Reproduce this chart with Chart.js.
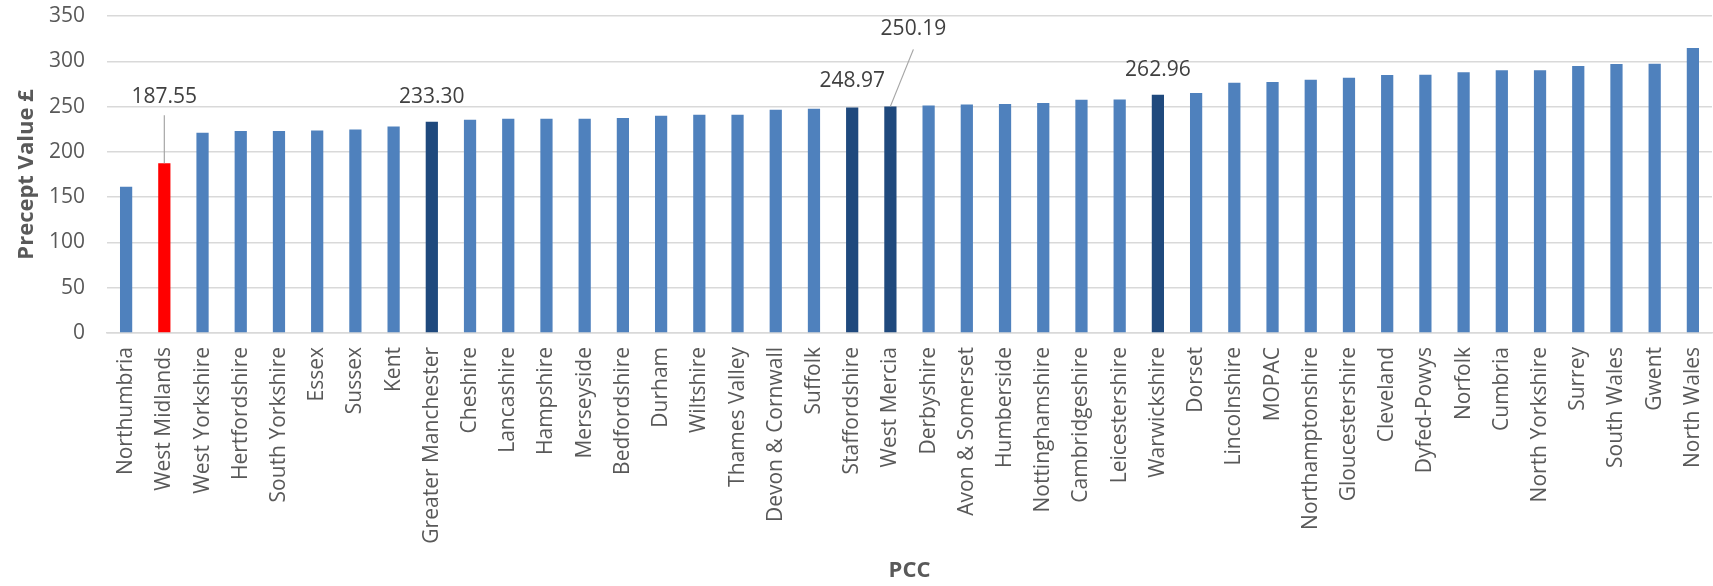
<!DOCTYPE html>
<html>
<head>
<meta charset="utf-8">
<script src="https://cdn.jsdelivr.net/npm/chart.js@4.4.1/dist/chart.umd.min.js"></script>
<style>
  html, body { margin: 0; padding: 0; background: #ffffff; }
  #wrap { width: 1713px; height: 586px; }
</style>
</head>
<body>
<div id="wrap"><canvas id="c" width="1713" height="586"></canvas></div>
<script>
// ---- data ----
const categories = [
  'Northumbria', 'West Midlands', 'West Yorkshire', 'Hertfordshire', 'South Yorkshire',
  'Essex', 'Sussex', 'Kent', 'Greater Manchester', 'Cheshire', 'Lancashire', 'Hampshire',
  'Merseyside', 'Bedfordshire', 'Durham', 'Wiltshire', 'Thames Valley', 'Devon & Cornwall',
  'Suffolk', 'Staffordshire', 'West Mercia', 'Derbyshire', 'Avon & Somerset', 'Humberside',
  'Nottinghamshire', 'Cambridgeshire', 'Leicestershire', 'Warwickshire', 'Dorset',
  'Lincolnshire', 'MOPAC', 'Northamptonshire', 'Gloucestershire', 'Cleveland', 'Dyfed-Powys',
  'Norfolk', 'Cumbria', 'North Yorkshire', 'Surrey', 'South Wales', 'Gwent', 'North Wales'
];
const preceptValues = [
  161.4, 187.55, 221.1, 222.9, 222.9,
  223.7, 224.8, 228.1, 233.30, 235.4, 236.5, 236.5,
  236.5, 237.3, 239.9, 241.0, 241.0, 246.5,
  247.6, 248.97, 250.19, 251.3, 252.4, 252.8,
  253.9, 257.6, 257.9, 262.96, 264.9,
  276.3, 277.1, 279.7, 281.9, 284.8, 285.2,
  287.9, 290.1, 290.1, 294.7, 296.9, 297.3, 314.6
];
const focusCategory = 'West Midlands';
const comparatorCategories = ['Greater Manchester', 'Staffordshire', 'West Mercia', 'Warwickshire'];
const labelledCategories = ['West Midlands', 'Greater Manchester', 'Staffordshire', 'West Mercia', 'Warwickshire'];
const yTicks = [0, 50, 100, 150, 200, 250, 300, 350];

// ---- styles ----
const FONT = 'Open Sans';
const TEXT = '#595959';
const LABEL_TEXT = '#404040';
const GRID = '#D9D9D9';
const BLUE = '#4F81BD';
const DARK = '#1F497D';
const RED = '#FF0000';

// label placement relative to bar top (pixels)
const labelPlacement = {
  'West Midlands':      { dx: 0,  dy: -66, leader: { x: 0,  y: -48 } },
  'Greater Manchester': { dx: 0,  dy: -25 },
  'Staffordshire':      { dx: 0,  dy: -26 },
  'West Mercia':        { dx: 23, dy: -77, leader: { x: 23, y: -57 } },
  'Warwickshire':       { dx: 0,  dy: -25 }
};

const barColors = categories.map(c =>
  c === focusCategory ? RED : (comparatorCategories.includes(c) ? DARK : BLUE));

const dataLabelPlugin = {
  id: 'dataLabelPlugin',
  afterDatasetsDraw(chart) {
    const ctx = chart.ctx;
    const meta = chart.getDatasetMeta(0);
    ctx.save();
    ctx.font = '21px "' + FONT + '"';
    ctx.fillStyle = LABEL_TEXT;
    ctx.textAlign = 'center';
    ctx.textBaseline = 'middle';
    labelledCategories.forEach(name => {
      const i = categories.indexOf(name);
      const el = meta.data[i];
      const p = labelPlacement[name];
      if (p.leader) {
        ctx.strokeStyle = '#A6A6A6';
        ctx.lineWidth = 1.2;
        ctx.beginPath();
        ctx.moveTo(el.x + p.leader.x, el.y + p.leader.y);
        ctx.lineTo(el.x, el.y);
        ctx.stroke();
      }
      ctx.fillText(preceptValues[i].toFixed(2), el.x + p.dx, el.y + p.dy);
    });
    ctx.restore();
  }
};

new Chart(document.getElementById('c'), {
  type: 'bar',
  data: {
    labels: categories,
    datasets: [{
      data: preceptValues,
      backgroundColor: barColors,
      borderWidth: 0,
      categoryPercentage: 1.0,
      barPercentage: 0.32
    }]
  },
  options: {
    responsive: false,
    animation: false,
    devicePixelRatio: 1,
    layout: { padding: { top: 16, right: 1, left: 0, bottom: 0 } },
    plugins: {
      legend: { display: false },
      tooltip: { enabled: false }
    },
    scales: {
      x: {
        grid: { display: false, drawTicks: false },
        border: { display: true, color: GRID, width: 1.5 },
        ticks: {
          autoSkip: false, minRotation: 90, maxRotation: 90, padding: 14,
          color: TEXT, font: { family: FONT, size: 21 }
        },
        title: {
          display: true, text: 'PCC', color: TEXT,
          font: { family: FONT, size: 22, weight: 'bold' },
          padding: { top: 0, bottom: 2 }
        },
        afterFit(scale) {
          scale.height = 253;
          scale.paddingLeft = 0; scale.paddingRight = 0;
          scale.paddingTop = 0; scale.paddingBottom = 0;
        }
      },
      y: {
        min: 0, max: 350,
        afterBuildTicks(scale) { scale.ticks = yTicks.map(v => ({ value: v })); },
        ticks: {
          padding: 22, color: TEXT, font: { family: FONT, size: 21 }
        },
        grid: { color: GRID, lineWidth: 1.5, drawTicks: false },
        border: { display: false },
        title: {
          display: true, text: 'Precept Value £', color: TEXT,
          font: { family: FONT, size: 22, weight: 'bold' },
          padding: { top: 14, bottom: 0 }
        },
        afterFit(scale) {
          scale.width = 107;
          scale.paddingTop = 0; scale.paddingBottom = 0;
          scale.paddingLeft = 0; scale.paddingRight = 0;
        }
      }
    }
  },
  plugins: [dataLabelPlugin]
});
</script>
</body>
</html>
